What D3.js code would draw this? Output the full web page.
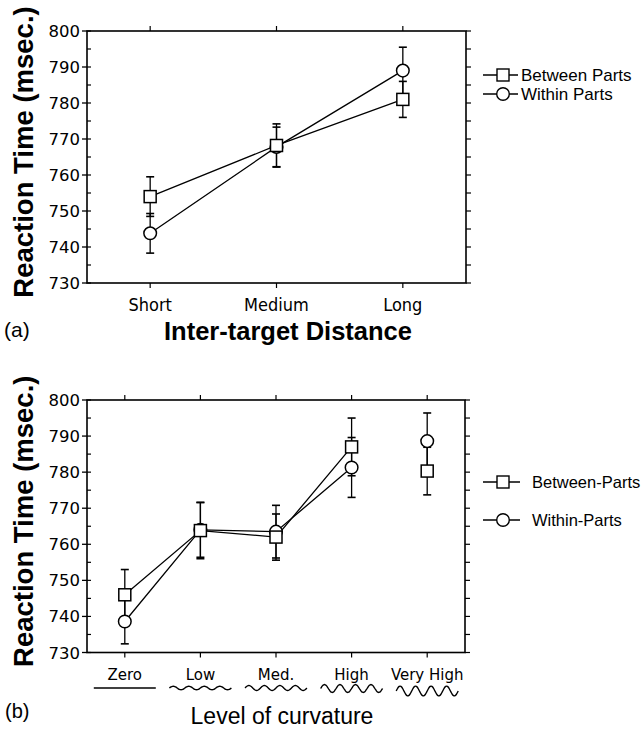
<!DOCTYPE html>
<html><head><meta charset="utf-8">
<script src="https://cdn.jsdelivr.net/npm/d3@7"></script>
<style>body{margin:0;background:#fff}svg{display:block}text{font-family:"DejaVu Sans",Verdana,sans-serif;fill:#000}
.arial{font-family:"Liberation Sans",Arial,sans-serif}
.narrow{font-family:"Liberation Sans Narrow","DejaVu Sans Condensed","Liberation Sans",sans-serif}</style>
</head><body>
<script>
// ---- Data ----
const distCategories = ["Short", "Medium", "Long"];
const distBetween = [754, 768.2, 781];
const distBetweenErr = [5.5, 6, 5];
const distWithin = [743.8, 767.8, 789];
const distWithinErr = [5.5, 5.5, 6.5];

const curvCategories = ["Zero", "Low", "Med.", "High", "Very High"];
const curvBetween = [746, 763.8, 762, 787, 780.3];
const curvBetweenErr = [7, 7.8, 6.4, 8, 6.6];
const curvWithin = [738.6, 764, 763.5, 781.3, 788.6];
const curvWithinErr = [6.2, 7.6, 7.3, 8.3, 7.8];
const curvWaveAmp = [0, 1.8, 2.5, 4, 5]; // icon under each curvature label
const curvWaveDy = [0, 0, 0, 1, 6];
const connectCount = 4; // Very High is not connected

const yTicks = [730, 740, 750, 760, 770, 780, 790, 800];
const yMinor = d3.range(730, 801, 5);

const W = 642, H = 729;
const svg = d3.select("body").append("svg").attr("width", W).attr("height", H);

function panel(opts) {
  const g = svg.append("g");
  const x = d3.scaleBand().domain(opts.cats).range([87, opts.right]);
  const y = d3.scaleLinear().domain([730, 800]).range([opts.bottom, opts.top]);
  const cx = c => x(c) + x.bandwidth() / 2;
  const L = 87, R = opts.right, T = opts.top, B = opts.bottom;
  g.append("rect").attr("x", L).attr("y", T).attr("width", R - L).attr("height", B - T)
    .attr("fill", "none").attr("stroke", "#000").attr("stroke-width", 1.6);
  g.selectAll(".ym").data(yTicks).join("line")
    .attr("x1", L - 5).attr("x2", L).attr("y1", d => y(d)).attr("y2", d => y(d))
    .attr("stroke", "#000").attr("stroke-width", 1.3);
  g.selectAll(".yl").data(yTicks).join("text")
    .attr("x", L - 7).attr("y", d => y(d) + 6).attr("text-anchor", "end")
    .attr("font-size", 16.5).text(d => d);
  g.selectAll(".yi").data(yMinor).join("line")
    .attr("x1", L).attr("x2", L + 4).attr("y1", d => y(d)).attr("y2", d => y(d))
    .attr("stroke", "#000").attr("stroke-width", 1.2);
  g.selectAll(".yr").data(yMinor).join("line")
    .attr("x1", R).attr("x2", R + 5).attr("y1", d => y(d)).attr("y2", d => y(d))
    .attr("stroke", "#000").attr("stroke-width", 1.2);
  g.selectAll(".xt").data(opts.cats).join("line")
    .attr("x1", d => cx(d)).attr("x2", d => cx(d)).attr("y1", T - 5).attr("y2", T)
    .attr("stroke", "#000").attr("stroke-width", 1.2);
  g.selectAll(".xb").data(opts.cats).join("line")
    .attr("x1", d => cx(d)).attr("x2", d => cx(d)).attr("y1", B).attr("y2", B + 5)
    .attr("stroke", "#000").attr("stroke-width", 1.2);
  g.selectAll(".xl").data(opts.cats).join("text")
    .attr("class", opts.catClass)
    .attr("x", d => cx(d)).attr("y", opts.catLabelY).attr("text-anchor", "middle")
    .attr("font-size", opts.catSize).text(d => d);

  const series = [
    {vals: opts.between, err: opts.betweenErr, shape: "square"},
    {vals: opts.within, err: opts.withinErr, shape: "circle"}
  ];
  series.forEach(s => {
    opts.cats.forEach((c, i) => {
      const x0 = cx(c), hi = y(s.vals[i] + s.err[i]), lo = y(s.vals[i] - s.err[i]);
      g.append("line").attr("x1", x0).attr("x2", x0).attr("y1", hi).attr("y2", lo)
        .attr("stroke", "#000").attr("stroke-width", 1.3);
      [hi, lo].forEach(yy => g.append("line").attr("x1", x0 - 4).attr("x2", x0 + 4)
        .attr("y1", yy).attr("y2", yy).attr("stroke", "#000").attr("stroke-width", 1.6));
    });
  });
  const line = d3.line().x(d => cx(d.c)).y(d => y(d.v));
  series.forEach(s => {
    const pts = opts.cats.slice(0, opts.connect).map((c, i) => ({c, v: s.vals[i]}));
    g.append("path").attr("d", line(pts)).attr("fill", "none")
      .attr("stroke", "#000").attr("stroke-width", 1.3);
  });
  [series[1], series[0]].forEach(s => {
    opts.cats.forEach((c, i) => {
      if (s.shape === "square") {
        g.append("rect").attr("x", cx(c) - 6).attr("y", y(s.vals[i]) - 6)
          .attr("width", 12).attr("height", 12).attr("fill", "#fff")
          .attr("stroke", "#000").attr("stroke-width", 1.5);
      } else {
        g.append("circle").attr("cx", cx(c)).attr("cy", y(s.vals[i])).attr("r", 6.3)
          .attr("fill", "#fff").attr("stroke", "#000").attr("stroke-width", 1.5);
      }
    });
  });
  g.append("text").attr("class", "arial")
    .attr("transform", `translate(33,${(T + B) / 2 - 5}) rotate(-90)`)
    .attr("text-anchor", "middle").attr("font-size", 27.5).attr("font-weight", "bold")
    .text("Reaction Time (msec.)");
  opts.legend.forEach((lg, i) => {
    const ly = lg.y;
    g.append("line").attr("x1", 483).attr("x2", lg.x2).attr("y1", ly).attr("y2", ly)
      .attr("stroke", "#000").attr("stroke-width", 1.3);
    if (i === 0) {
      g.append("rect").attr("x", 497).attr("y", ly - 6).attr("width", 12).attr("height", 12)
        .attr("fill", "#fff").attr("stroke", "#000").attr("stroke-width", 1.4);
    } else {
      g.append("circle").attr("cx", 503).attr("cy", ly).attr("r", 6.3)
        .attr("fill", "#fff").attr("stroke", "#000").attr("stroke-width", 1.4);
    }
    g.append("text").attr("class", "arial").attr("x", lg.tx).attr("y", ly + 6)
      .attr("font-size", lg.size).text(lg.label);
  });
  return {g, x, cx};
}

panel({
  cats: distCategories, right: 466, top: 31, bottom: 283,
  between: distBetween, betweenErr: distBetweenErr,
  within: distWithin, withinErr: distWithinErr, connect: 3,
  catLabelY: 311, catSize: 18, catClass: "narrow",
  legend: [{y: 75, x2: 518, tx: 521, size: 17, label: "Between Parts"},
           {y: 94, x2: 518, tx: 521, size: 17, label: "Within Parts"}]
});
svg.append("text").attr("class", "arial").attr("x", 288).attr("y", 340).attr("text-anchor", "middle")
  .attr("font-size", 25.5).attr("font-weight", "bold").text("Inter-target Distance");
svg.append("text").attr("class", "arial").attr("x", 4).attr("y", 337).attr("font-size", 21).text("(a)");

const pb = panel({
  cats: curvCategories, right: 465, top: 400, bottom: 652.5,
  between: curvBetween, betweenErr: curvBetweenErr,
  within: curvWithin, withinErr: curvWithinErr, connect: connectCount,
  catLabelY: 680, catSize: 15, catClass: "",
  legend: [{y: 482, x2: 520, tx: 532, size: 16.5, label: "Between-Parts"},
           {y: 520, x2: 520, tx: 532, size: 16.5, label: "Within-Parts"}]
});
curvCategories.forEach((c, i) => {
  const x0 = pb.cx(c) - 31, x1 = pb.cx(c) + 31, yy = 688 + curvWaveDy[i] / 2, amp = curvWaveAmp[i];
  const pts = d3.range(0, 81).map(k => {
    const t = k / 80;
    return [x0 + t * (x1 - x0), yy - amp * Math.sin(t * Math.PI * 2 * 4)];
  });
  svg.append("path").attr("d", d3.line().curve(d3.curveBasis)(pts)).attr("fill", "none")
    .attr("stroke", "#000").attr("stroke-width", 1.4);
});
svg.append("text").attr("class", "arial").attr("x", 282).attr("y", 724).attr("text-anchor", "middle")
  .attr("font-size", 23).text("Level of curvature");
svg.append("text").attr("class", "arial").attr("x", 5).attr("y", 718).attr("font-size", 20).text("(b)");
</script>
</body></html>
